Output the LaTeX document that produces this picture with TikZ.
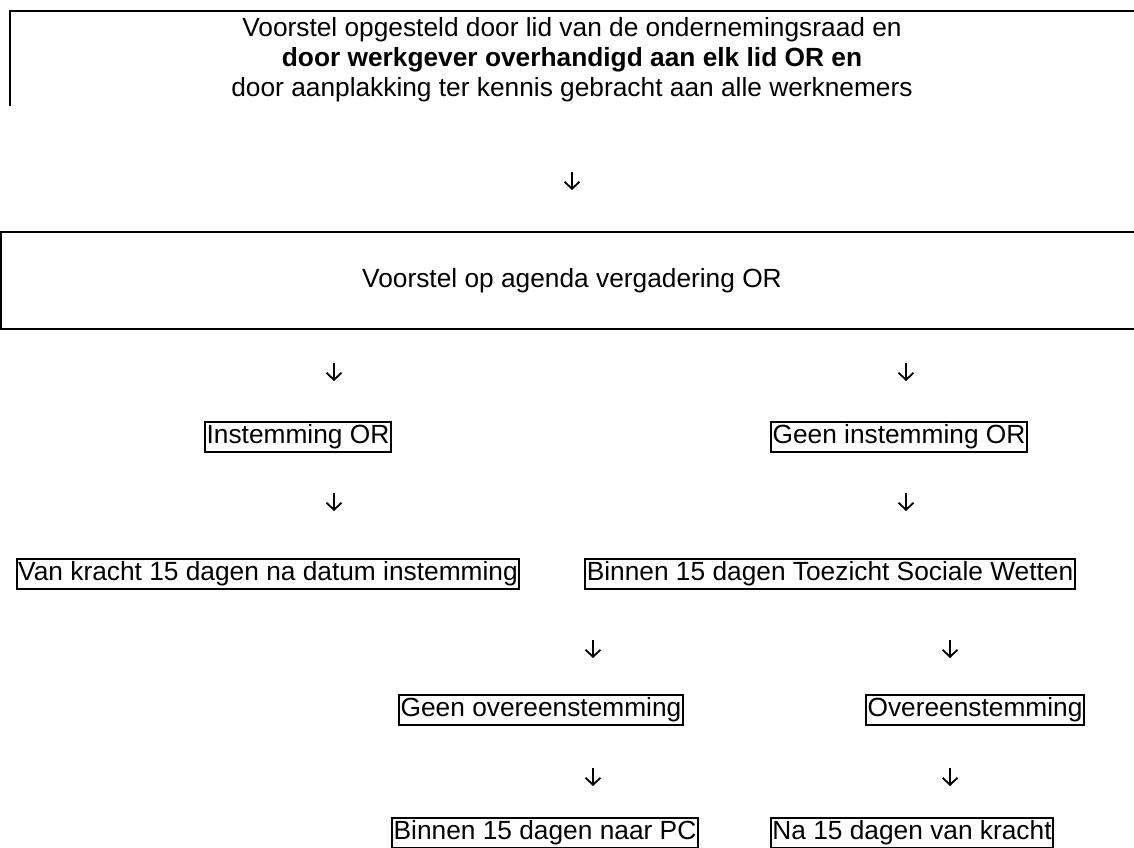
\documentclass[tikz,border=0pt]{standalone}
\usepackage{fontspec}
\setmainfont{Liberation Sans}
\usetikzlibrary{arrows.meta}

\newcommand\txtsize{\fontsize{26.3bp}{30bp}\selectfont}

\begin{document}
\begin{tikzpicture}[x=1bp, y=-1bp,
    cell/.style={draw, line width=2.2bp, inner xsep=1.5bp, inner ysep=1bp,
      text height=20.5bp, text depth=7bp, font=\txtsize},
    lbl/.style={inner sep=0pt, font=\txtsize},
    rule/.style={line width=2.4bp},
    arr/.style={line width=1.8bp, -{Straight Barb[length=7bp, width=15bp]}}]
  \useasboundingbox (0,0) rectangle (1134,848);

  % voorstel
  \draw[rule] (1134,11) -- (10,11) -- (10,106);
  \node[lbl, align=center] (prop) at (572,60)
    {Voorstel opgesteld door lid van de ondernemingsraad en\\
     \textbf{door werkgever overhandigd aan elk lid OR en}\\
     door aanplakking ter kennis gebracht aan alle werknemers};

  % agenda
  \draw[rule] (1134,232) -- (1,232) -- (1,329) -- (1134,329);
  \node[lbl] (agenda) at (572,281) {Voorstel op agenda vergadering OR};

  % beslissing OR
  \node[cell] (inst) at (298,437) {Instemming OR};
  \node[cell] (geeninst) at (899,437) {Geen instemming OR};

  \node[cell] (vankracht) at (268,574) {Van kracht 15 dagen na datum instemming};
  \node[cell] (toezicht) at (830,574) {Binnen 15 dagen Toezicht Sociale Wetten};

  \node[cell] (geenover) at (541,710) {Geen overeenstemming};
  \node[cell] (over) at (975,710) {Overeenstemming};

  \node[cell] (naarpc) at (545,833) {Binnen 15 dagen naar PC};
  \node[cell] (nakracht) at (912,833) {Na 15 dagen van kracht};

  % pijlen
  \coordinate (p0a) at (572,172);  \coordinate (p0b) at (572,190);
  \coordinate (p1a) at (334,363);  \coordinate (p1b) at (334,381);
  \coordinate (p2a) at (906,363);  \coordinate (p2b) at (906,381);
  \coordinate (p3a) at (334,493);  \coordinate (p3b) at (334,511);
  \coordinate (p4a) at (906,493);  \coordinate (p4b) at (906,511);
  \coordinate (p5a) at (593,640);  \coordinate (p5b) at (593,658);
  \coordinate (p6a) at (950,640);  \coordinate (p6b) at (950,658);
  \coordinate (p7a) at (593,768);  \coordinate (p7b) at (593,786);
  \coordinate (p8a) at (950,768);  \coordinate (p8b) at (950,786);

  \draw[arr] (p0a) -- (p0b);
  \draw[arr] (p1a) -- (p1b);
  \draw[arr] (p2a) -- (p2b);
  \draw[arr] (p3a) -- (p3b);
  \draw[arr] (p4a) -- (p4b);
  \draw[arr] (p5a) -- (p5b);
  \draw[arr] (p6a) -- (p6b);
  \draw[arr] (p7a) -- (p7b);
  \draw[arr] (p8a) -- (p8b);
\end{tikzpicture}
\end{document}
